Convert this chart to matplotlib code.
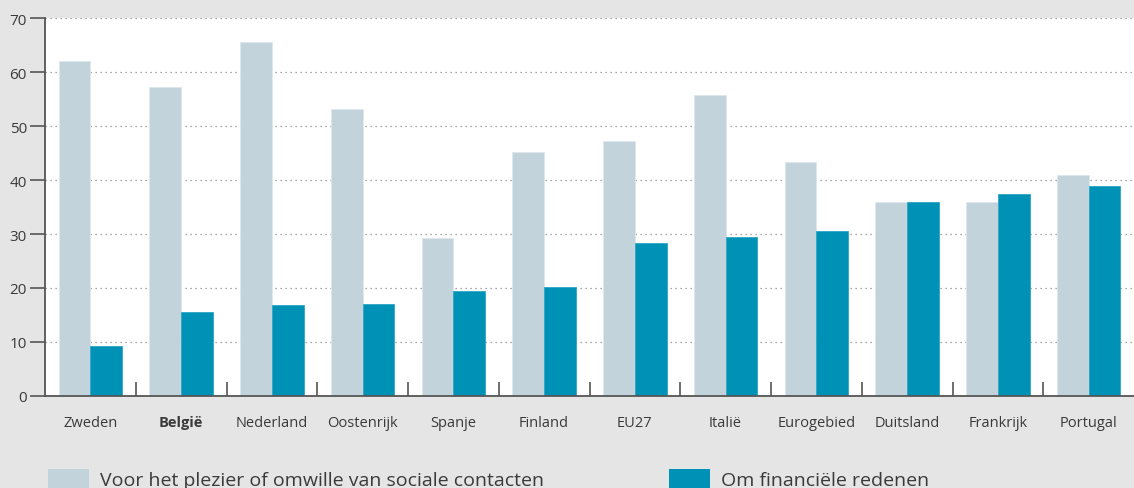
import matplotlib

matplotlib.use("Agg")
import matplotlib.pyplot as plt
import numpy as np
from matplotlib.patches import Patch

countries = ["Zweden", "België", "Nederland", "Oostenrijk", "Spanje", "Finland",
             "EU27", "Italië", "Eurogebied", "Duitsland", "Frankrijk", "Portugal"]
plezier = [62.0, 57.2, 65.5, 53.1, 29.3, 45.2, 47.3, 55.8, 43.4, 36.0, 35.9, 40.9]
financieel = [9.3, 15.6, 16.9, 17.0, 19.5, 20.2, 28.4, 29.5, 30.5, 36.0, 37.5, 38.8]
legend_labels = ["Voor het plezier of omwille van sociale contacten", "Om financiële redenen"]

LIGHT = "#c3d3dc"
DARK = "#0092b6"
BG = "#e5e5e5"
TEXT = "#3a3a3a"

plt.rcParams["font.family"] = ["Open Sans", "DejaVu Sans"]

fig = plt.figure(figsize=(11.34, 4.89), dpi=100, facecolor=BG)
ax = fig.add_axes([45 / 1134, 1 - 397 / 489, 1 - 45 / 1134, 378 / 489])
ax.set_facecolor("white")

x = np.arange(len(countries))
w = 0.35
ax.bar(x - w / 2, plezier, w, color=LIGHT, edgecolor="#dde7ec", linewidth=0.6, zorder=2)
ax.bar(x + w / 2, financieel, w, color=DARK, edgecolor="#2aa6c4", linewidth=0.6, zorder=2)

ax.set_xlim(-0.5, len(countries) - 0.5)
ax.set_ylim(0, 70)
ax.set_yticks(range(0, 71, 10))
ax.yaxis.grid(True, linestyle=(0, (1, 3)), color="#8a8a8a", linewidth=0.9, zorder=1)
ax.set_axisbelow(True)

for s in ["top", "right"]:
    ax.spines[s].set_visible(False)
for s in ["left", "bottom"]:
    ax.spines[s].set_color("#555555")
    ax.spines[s].set_linewidth(1.3)

ax.set_xticks(x)
ax.set_xticklabels(countries)
ax.tick_params(axis="x", length=0, pad=14, labelsize=10.5, labelcolor=TEXT)
ax.set_xticks(x[:-1] + 0.5, minor=True)
ax.tick_params(axis="x", which="minor", direction="in", length=10, width=1.2, color="#555555")
ax.tick_params(axis="y", direction="out", length=11, width=1.2, color="#555555",
               labelsize=11, labelcolor=TEXT, pad=2)
for lbl in ax.get_xticklabels():
    if lbl.get_text() == "België":
        lbl.set_fontweight("bold")

handles = [Patch(facecolor=LIGHT, edgecolor="none"), Patch(facecolor=DARK, edgecolor="none")]
fig.legend(handles, legend_labels, loc="upper left", bbox_to_anchor=(40 / 1134, 1 - 462 / 489),
           ncol=2, frameon=False, fontsize=14, handlelength=2.1, handleheight=1.15,
           handletextpad=0.6, columnspacing=6.4, labelcolor=TEXT, borderaxespad=0)

fig.savefig("out.png", dpi=100, facecolor=BG)
